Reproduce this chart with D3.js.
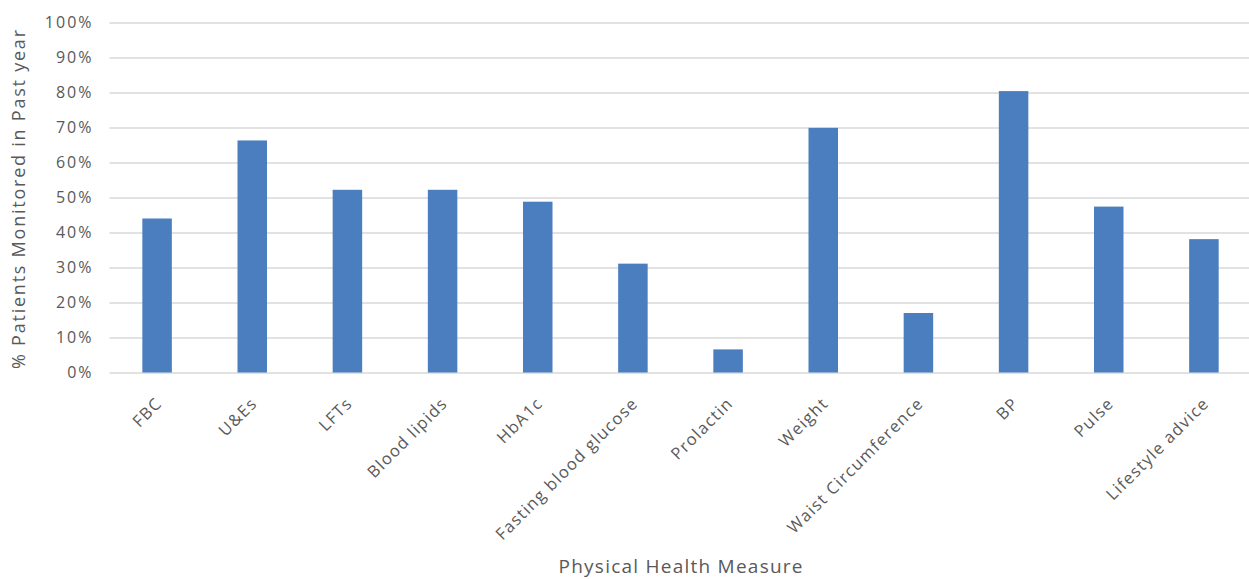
<!DOCTYPE html>
<html>
<head>
<meta charset="utf-8">
<script src="https://cdn.jsdelivr.net/npm/d3@7"></script>
<style>
  html, body { margin: 0; padding: 0; background: #ffffff; }
  svg { display: block; }
  text { font-family: "Open Sans", "Liberation Sans", sans-serif; fill: #595959; }
</style>
</head>
<body>
<svg id="chart" width="1249" height="579"></svg>
<script>
// Share of patients with each physical health check recorded in the past year
const measures = [
  "FBC", "U&Es", "LFTs", "Blood lipids", "HbA1c", "Fasting blood glucose",
  "Prolactin", "Weight", "Waist Circumference", "BP", "Pulse", "Lifestyle advice"
];
const percentMonitored = [44.0, 66.3, 52.2, 52.2, 48.8, 31.1, 6.6, 69.9, 17.0, 80.4, 47.4, 38.1];
const yTickValues = [0, 10, 20, 30, 40, 50, 60, 70, 80, 90, 100];
const yTitle = "% Patients Monitored in Past year";
const xTitle = "Physical Health Measure";

const svg = d3.select("#chart");
const plot = { left: 109.5, right: 1251.5, top: 22.5, bottom: 372.5 };

const x = d3.scaleBand()
  .domain(measures)
  .range([plot.left, plot.right])
  .paddingInner(0.69)
  .paddingOuter(0.345);

const y = d3.scaleLinear()
  .domain([0, 100])
  .range([plot.bottom, plot.top]);

// Horizontal gridlines and percentage labels
const yAxis = d3.axisLeft(y)
  .tickValues(yTickValues)
  .tickFormat(d => d + "%")
  .tickSize(-(plot.right - plot.left))
  .tickPadding(16);

const gy = svg.append("g")
  .attr("transform", `translate(${plot.left},0)`)
  .call(yAxis);
gy.select(".domain").remove();
gy.selectAll(".tick line")
  .attr("stroke", "#d9d9d9")
  .attr("stroke-width", 1.5);
gy.selectAll(".tick text")
  .attr("font-size", 16)
  .attr("letter-spacing", 2)
  .attr("fill", "#595959");

// Bars
svg.append("g")
  .selectAll("rect")
  .data(measures.map((m, i) => ({ m, v: percentMonitored[i] })))
  .join("rect")
  .attr("x", d => x(d.m))
  .attr("width", x.bandwidth())
  .attr("y", d => y(d.v))
  .attr("height", d => y(0) - y(d.v))
  .attr("fill", "#4a7ebf");

// Category axis with rotated labels
const xAxis = d3.axisBottom(x).tickSize(0).tickPadding(0);
const gx = svg.append("g")
  .attr("transform", `translate(0,${plot.bottom})`)
  .call(xAxis);
gx.select(".domain").remove();
gx.selectAll(".tick text")
  .attr("font-size", 16.5)
  .attr("letter-spacing", 1.3)
  .attr("fill", "#595959")
  .attr("text-anchor", "end")
  .attr("dy", 0)
  .attr("y", 0)
  .attr("transform", "translate(6,32) rotate(-45)");

// Axis titles
svg.append("text")
  .attr("transform", `translate(25,${(plot.top + plot.bottom) / 2 + 2}) rotate(-90)`)
  .attr("text-anchor", "middle")
  .attr("font-size", 18)
  .attr("textLength", 339)
  .attr("lengthAdjust", "spacing")
  .text(yTitle);

svg.append("text")
  .attr("x", (plot.left + plot.right) / 2)
  .attr("y", 573)
  .attr("text-anchor", "middle")
  .attr("font-size", 19)
  .attr("textLength", 244)
  .attr("lengthAdjust", "spacing")
  .text(xTitle);
</script>
</body>
</html>
